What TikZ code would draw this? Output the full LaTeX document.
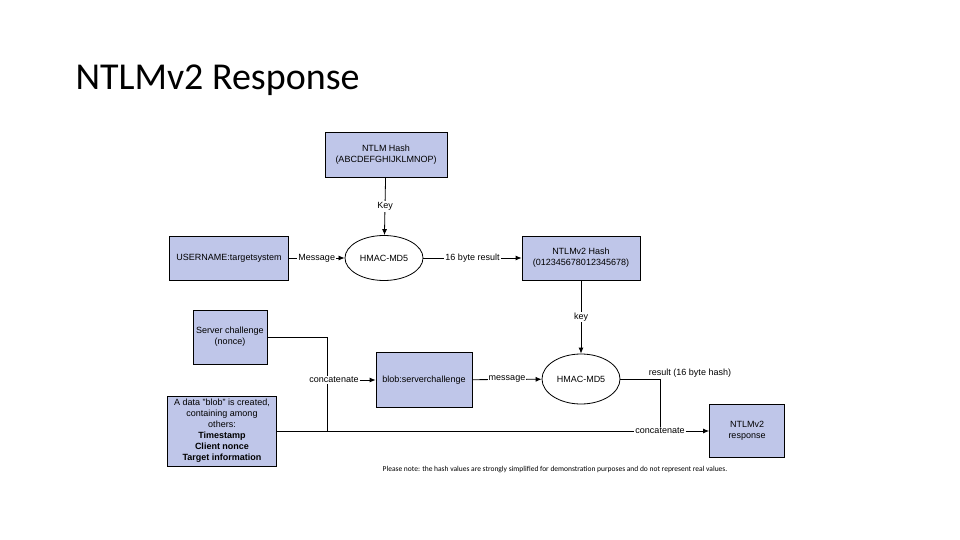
\documentclass[tikz,border=0pt]{standalone}
\usepackage{fontspec}
\setmainfont{Liberation Sans}
\newfontfamily\titlefont{Carlito}
\usetikzlibrary{arrows.meta,shapes.geometric}
\tikzset{
  box/.style={draw, thick, fill=cyan!35!blue!25!white, align=center, font=\fontsize{9}{11}\selectfont},
  hmac/.style={draw, thick, ellipse, fill=white, minimum width=60pt, minimum height=45pt, font=\fontsize{9}{11}\selectfont},
  lbl/.style={fill=white, inner sep=1pt, font=\fontsize{9}{11}\selectfont},
  conn/.style={thick},
  arr/.style={thick, -{Latex[length=6pt,width=5pt]}}
}
\begin{document}
\begin{tikzpicture}[x=1pt,y=-1pt]

  % white page, fixes the size
  \useasboundingbox [fill=white] (0,0) rectangle (960,540);

  % title
  \node [anchor=west, font=\titlefont\fontsize{38}{40}\selectfont] (title) at (72,80) {NTLMv2 Response};

  % boxes and hash functions
  \node [box, minimum width=122pt, minimum height=45pt] (ntlm) at (386,155) {NTLM Hash\\(ABCDEFGHIJKLMNOP)};
  \node [box, minimum width=119pt, minimum height=44pt] (user) at (229,258) {USERNAME:targetsystem};
  \node [hmac] (hm1) at (384,258) {HMAC-MD5};
  \node [box, minimum width=118pt, minimum height=44pt] (ntlm2) at (581,258) {NTLMv2 Hash\\(012345678012345678)};
  \node [box, minimum width=74pt, minimum height=54pt] (srv) at (230,337) {Server challenge\\(nonce)};
  \node [box, minimum width=96pt, minimum height=55pt] (blobsc) at (424,380) {blob:serverchallenge};
  \node [hmac, minimum width=62pt, minimum height=50pt] (hm2) at (581,379) {HMAC-MD5};
  \node [box, minimum width=109pt, minimum height=70pt] (data) at (222,431)
    {A data "blob" is created,\\containing among\\others:\\\textbf{Timestamp}\\\textbf{Client nonce}\\\textbf{Target information}};
  \node [box, minimum width=75pt, minimum height=53pt] (resp) at (747,431) {NTLMv2\\response};

  % junction points
  \coordinate (j1) at (327,337);
  \coordinate (j2) at (327,431);
  \coordinate (j3) at (660,379);

  % concatenation lines
  \draw [conn] (srv.east |- j1) -- (j1) -- (j2);
  \draw [conn] (hm2.east) -- (j3);
  \node [lbl] (cat1) at (334,380) {concatenate};
  \node [lbl] (cat2) at (660,431) {concatenate};
  \draw [conn] (data.east |- j2) -- (cat2);
  \draw [conn] (j3) -- (cat2);

  % arrows with labels
  \draw [arr] (ntlm) -- node [lbl] {Key} (hm1);
  \draw [arr] (user) -- node [lbl] {Message} (hm1);
  \draw [arr] (hm1) -- node [lbl] {16 byte result} (ntlm2);
  \draw [arr] (ntlm2) -- node [lbl] {key} (hm2);
  \draw [arr] (cat1) -- (blobsc);
  \draw [arr] (blobsc) -- node [lbl] {message} (hm2);
  \draw [arr] (cat2) -- (resp);
  \node [lbl, fill=none] (res) at (690,373) {result (16 byte hash)};

  % note
  \node [font=\titlefont\fontsize{7.5}{9}\selectfont] (note) at (555,470)
    {Please note: the hash values are strongly simplified for demonstration purposes and do not represent real values.};

\end{tikzpicture}
\end{document}
